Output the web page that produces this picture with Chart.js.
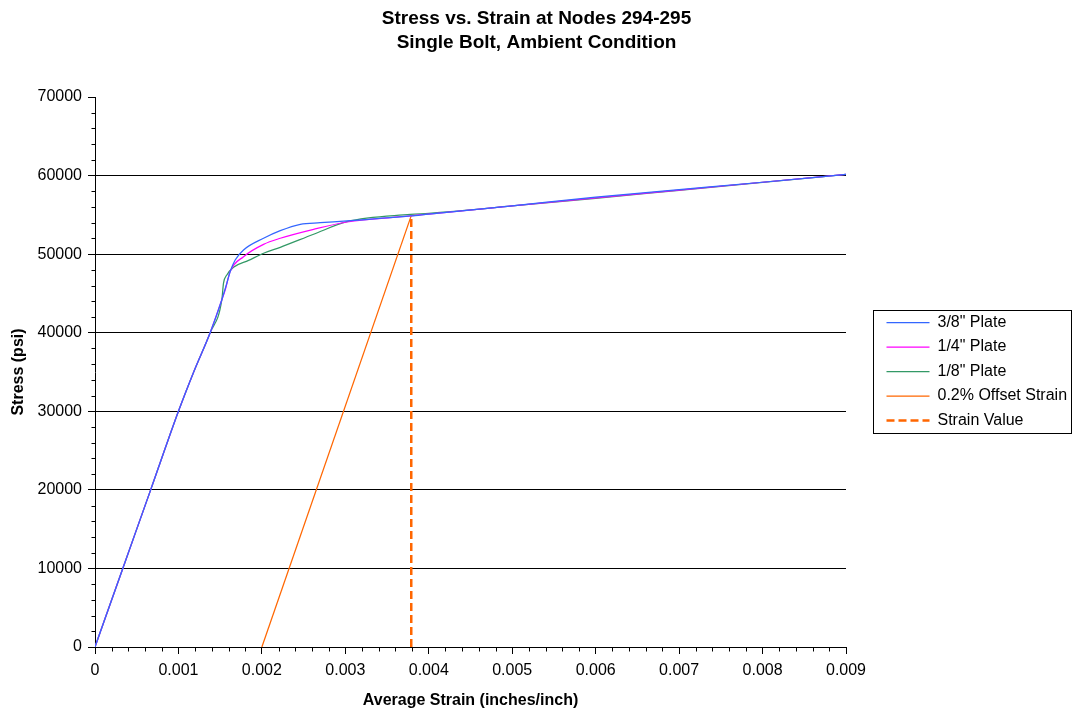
<!DOCTYPE html>
<html><head><meta charset="utf-8">
<script src="https://cdn.jsdelivr.net/npm/chart.js@4"></script>
<style>html,body{margin:0;padding:0;background:#fff}</style>
</head><body>
<canvas id="c" width="1073" height="711"></canvas>
<script>
// ---- data ----
const titleLines = ['Stress vs. Strain at Nodes 294-295', 'Single Bolt, Ambient Condition'];
const xTitle = 'Average Strain (inches/inch)';
const yTitle = 'Stress (psi)';
const seriesNames = ['3/8" Plate', '1/4" Plate', '1/8" Plate', '0.2% Offset Strain', 'Strain Value'];

const strain38 = [0, 0.000333, 0.000667, 0.001, 0.00119, 0.00138, 0.00152, 0.00158, 0.00162, 0.00168, 0.00178, 0.00202, 0.00222, 0.00246, 0.0027, 0.00302, 0.00378, 0.004, 0.005, 0.006, 0.007, 0.008, 0.009];
const stress38 = [0, 10000, 20000, 30000, 35200, 40000, 44200, 46300, 47800, 49260, 50530, 52020, 52990, 53800, 54000, 54220, 54860, 55100, 56150, 57250, 58200, 59150, 60150];

const strain14 = [0, 0.000333, 0.000667, 0.001, 0.00119, 0.00138, 0.00152, 0.00156, 0.00162, 0.00178, 0.00202, 0.00222, 0.00262, 0.00302, 0.00378, 0.004, 0.005, 0.006, 0.007, 0.008, 0.009];
const stress14 = [0, 10000, 20000, 30000, 35200, 40000, 44200, 45440, 47800, 49680, 51250, 52020, 53160, 54090, 54860, 55100, 56130, 57150, 58150, 59150, 60150];

const strain18 = [0, 0.000333, 0.000667, 0.001, 0.00119, 0.00138, 0.00152, 0.00154, 0.00158, 0.00166, 0.00184, 0.00202, 0.00222, 0.00262, 0.00302, 0.00378, 0.004, 0.005, 0.006, 0.007, 0.008, 0.009];
const stress18 = [0, 10000, 20000, 30000, 35200, 40000, 44200, 46300, 47350, 48330, 49200, 50110, 50870, 52530, 54130, 55050, 55200, 56130, 57100, 58120, 59130, 60150];

const offsetStrain = [0.002, 0.00379];
const offsetStress = [0, 54900];

const strainValueX = [0.00379, 0.00379];
const strainValueY = [0, 54900];

const xTickStep = 0.001, xMinorStep = 0.0002, xMax = 0.009;
const yTickStep = 10000, yMinorStep = 2000, yMax = 70000;

// ---- helpers ----
const pts = (xs, ys) => xs.map((x, i) => ({x, y: ys[i]}));

Chart.defaults.font.family = '"Liberation Sans", Arial, Helvetica, sans-serif';
Chart.defaults.color = '#000';

const LEGEND_W = 227;     // width of the right-hand legend column
const LEGEND_SHIFT = 32;  // gap between plot area and legend items
const LEGEND_DROP = 16;   // vertical offset of the legend block

const legendLayout = {
  id: 'legendLayout',
  beforeLayout(chart) {
    const lg = chart.legend;
    if (lg && !lg.__wrapped) {
      const f = lg.fit;
      lg.fit = function () { f.call(this); if (this.options.display) this.width = LEGEND_W; };
      lg.__wrapped = true;
    }
  },
  afterLayout(chart) {
    const lg = chart.legend;
    if (lg) {
      lg.left += LEGEND_SHIFT; lg.right += LEGEND_SHIFT;
      lg.top += LEGEND_DROP; lg.bottom += LEGEND_DROP;
    }
  },
  afterDraw(chart) {
    const lg = chart.legend;
    if (!lg || !lg.legendHitBoxes || !lg.legendHitBoxes.length) return;
    const hb = lg.legendHitBoxes;
    const first = hb[0], last = hb[hb.length - 1];
    const ctx = chart.ctx;
    const x0 = Math.round(first.left - 14) + 0.5;
    const y0 = Math.round(first.top - 5) + 0.5;
    const x1 = chart.width - 1.5;
    const y1 = Math.round(last.top + last.height + 4) + 0.5;
    ctx.save();
    ctx.strokeStyle = '#000';
    ctx.lineWidth = 1;
    ctx.setLineDash([]);
    ctx.strokeRect(x0, y0, x1 - x0, y1 - y0);
    ctx.restore();
  }
};

const minorTicks = {
  id: 'minorTicks',
  afterDraw(chart) {
    const xs = chart.scales.x, ys = chart.scales.y, ctx = chart.ctx;
    ctx.save();
    ctx.strokeStyle = '#000';
    ctx.lineWidth = 1;
    ctx.beginPath();
    const axX = Math.round(ys.right) + 0.5;
    for (let k = 1; k * yMinorStep < yMax; k++) {
      const v = k * yMinorStep;
      if (Math.abs(v / yTickStep - Math.round(v / yTickStep)) < 1e-6) continue;
      const py = Math.round(ys.getPixelForValue(v)) + 0.5;
      ctx.moveTo(axX - 4, py); ctx.lineTo(axX, py);
    }
    const axY = Math.round(xs.top) + 0.5;
    for (let k = 1; k * xMinorStep < xMax - 1e-9; k++) {
      const v = k * xMinorStep;
      if (Math.abs(v / xTickStep - Math.round(v / xTickStep)) < 1e-6) continue;
      const px = Math.round(xs.getPixelForValue(v)) + 0.5;
      ctx.moveTo(px, axY); ctx.lineTo(px, axY + 4);
    }
    ctx.stroke();
    ctx.restore();
  }
};

const curve = (label, data, color) => ({
  label, data, showLine: true, borderColor: color, backgroundColor: color,
  borderWidth: 1.25, pointRadius: 0, pointHoverRadius: 0, cubicInterpolationMode: 'monotone', fill: false
});

new Chart(document.getElementById('c'), {
  type: 'scatter',
  data: {
    datasets: [
      curve(seriesNames[0], pts(strain38, stress38), '#3366FF'),
      curve(seriesNames[1], pts(strain14, stress14), '#FF00FF'),
      curve(seriesNames[2], pts(strain18, stress18), '#339966'),
      { label: seriesNames[3], data: pts(offsetStrain, offsetStress), showLine: true, borderColor: '#FF6600', backgroundColor: '#FF6600', borderWidth: 1.25, pointRadius: 0, tension: 0 },
      { label: seriesNames[4], data: pts(strainValueX, strainValueY), showLine: true, borderColor: '#FF6600', backgroundColor: '#FF6600', borderWidth: 2.5, borderDash: [8, 4], pointRadius: 0, tension: 0 }
    ]
  },
  options: {
    responsive: false,
    animation: false,
    events: [],
    layout: { padding: 0 },
    plugins: {
      title: { display: true, text: titleLines, color: '#000', font: { size: 19, weight: 'bold', lineHeight: '24px' }, padding: { top: 7, bottom: 42 } },
      legend: {
        position: 'right',
        labels: {
          usePointStyle: true, pointStyle: 'line', pointStyleWidth: 43, font: { size: 16 }, padding: 8.5, color: '#000',
          generateLabels(chart) {
            const items = Chart.defaults.plugins.legend.labels.generateLabels(chart);
            items.forEach(it => {
              const ds = chart.data.datasets[it.datasetIndex];
              it.lineDash = ds.borderDash || [];
              it.lineWidth = ds.borderWidth;
              it.strokeStyle = ds.borderColor;
              it.fillStyle = ds.borderColor;
              it.pointStyle = 'line';
            });
            return items;
          }
        }
      },
      tooltip: { enabled: false }
    },
    scales: {
      x: {
        type: 'linear', min: 0, max: xMax,
        ticks: { stepSize: xTickStep, font: { size: 16 }, padding: 7, maxRotation: 0, color: '#000',
          callback: v => (Math.abs(v) < 1e-12 ? '0' : Number(v).toFixed(3)) },
        grid: { drawOnChartArea: false, tickLength: 7, tickColor: '#000', color: '#000' },
        border: { color: '#000', width: 1 },
        title: { display: true, text: xTitle, color: '#000', font: { size: 16, weight: 'bold' }, padding: { top: 0, bottom: 1 } },
        afterFit: s => { s.height = 64; }
      },
      y: {
        type: 'linear', min: 0, max: yMax,
        ticks: { stepSize: yTickStep, font: { size: 16 }, padding: 6, color: '#000', callback: v => String(Math.round(v)) },
        grid: { tickLength: 7, tickColor: '#000',
          color: c => (c.tick && c.tick.value > 0 && c.tick.value < yMax) ? '#000' : 'rgba(0,0,0,0)' },
        border: { color: '#000', width: 1 },
        title: { display: true, text: yTitle, color: '#000', font: { size: 16, weight: 'bold' }, padding: { top: 9, bottom: 0 } },
        afterFit: s => { s.width = 95; }
      }
    }
  },
  plugins: [legendLayout, minorTicks]
});
</script>
</body></html>
